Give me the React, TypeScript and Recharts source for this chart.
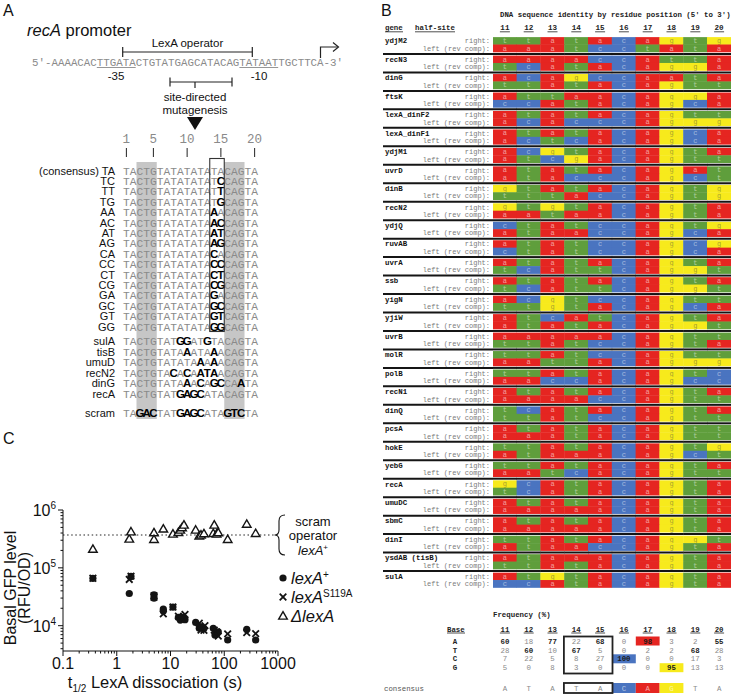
import React from 'react';
import { ScatterChart, Scatter, XAxis, YAxis, ReferenceLine } from 'recharts';

const SANS = '"Liberation Sans", Arial, Helvetica, sans-serif';
const MONO = '"Liberation Mono", "Courier New", monospace';

// ---------------- Panel A data ----------------
const promoterSeq = '5\u2032-AAAACACTTGATACTGTATGAGCATACAGTATAATTGCTTCA-3\u2032';
const positionMarks = [1, 5, 10, 15, 20];
const consensusSeq = 'TACTGTATATATATACAGTA';
const variantLabels = ['(consensus) TA', 'TC', 'TT', 'TG', 'AA', 'AC', 'AT', 'AG', 'CA', 'CC', 'CT', 'CG', 'GA', 'GC', 'GT', 'GG'];
const variantSeqs = [
  'TACTGTATATATATACAGTA', 'TACTGTATATATATCCAGTA', 'TACTGTATATATATTCAGTA', 'TACTGTATATATATGCAGTA',
  'TACTGTATATATAAACAGTA', 'TACTGTATATATAACCAGTA', 'TACTGTATATATAATCAGTA', 'TACTGTATATATAAGCAGTA',
  'TACTGTATATATACACAGTA', 'TACTGTATATATACCCAGTA', 'TACTGTATATATACTCAGTA', 'TACTGTATATATACGCAGTA',
  'TACTGTATATATAGACAGTA', 'TACTGTATATATAGCCAGTA', 'TACTGTATATATAGTCAGTA', 'TACTGTATATATAGGCAGTA',
];
const naturalLabels = ['sulA', 'tisB', 'umuD', 'recN2', 'dinG', 'recA'];
const naturalSeqs = [
  'TACTGTATGGATGTACAGTA', 'TACTGTATAAATAAACAGTA', 'TACTGTATATAAAAACAGTA',
  'TACTGTACACAATAACAGTA', 'TACTGTATAAACAGCCAATA', 'TACTGTATGAGCATACAGTA',
];
const scramLabel = 'scram';
const scramSeq = 'TAGACTATGAGCATAGTCTA';

// ---------------- Panel B data ----------------
const geneNames = ['ydjM2', 'recN3', 'dinG', 'ftsK', 'lexA_dinF2', 'lexA_dinF1', 'ydjM1', 'uvrD', 'dinB', 'recN2',
  'ydjQ', 'ruvAB', 'uvrA', 'ssb', 'yigN', 'yjiW', 'uvrB', 'molR', 'polB', 'recN1',
  'dinQ', 'pcsA', 'hokE', 'yebG', 'recA', 'umuDC', 'sbmC', 'dinI', 'ysdAB (tisB)', 'sulA'];
const rightHalves = ['ttatacagtg', 'aaaaccatta', 'acagccaata', 'attaacagga', 'atatacagtt', 'atatacagca', 'acgtacagta', 'atatacagat', 'gtatacagtg', 'gtgtacagta',
  'ctatccagtg', 'atatccagcg', 'atatacagta', 'atatacagta', 'acgtccagtt', 'atcatcagta', 'aaaaacagtt', 'ttatccagtt', 'ttatacagtc', 'atatacagta',
  'tcatacagta', 'atatacagtt', 'ttatacagtg', 'ttatacagta', 'gcatacagta', 'atatacagta', 'atatacagta', 'ttatacaggt', 'ataaacagta', 'atgtacagta'];
const leftHalves = ['aaatcctata', 'tcatacagga', 'ttatacagtt', 'ccatacagca', 'acacccaggg', 'actcacagca', 'atcgacagtt', 'atacccagct', 'tttaccagtg', 'aataacagta',
  'ataaccagca', 'ctatccagca', 'tcattcaggt', 'tcattcaggt', 'ttgtacagca', 'atatacaggt', 'ttatccagta', 'aattacaggg', 'aaccacagcc', 'aaaaccagtt',
  'ttatccagtt', 'aaatacagtt', 'ataaacagct', 'aatcacagtt', 'tcatacagta', 'aaaaacagta', 'aaaaacagta', 'ataaccagta', 'ttatacagta', 'ccatacagta'];
const residuePositions = [11, 12, 13, 14, 15, 16, 17, 18, 19, 20];
const freqBases = ['A', 'T', 'C', 'G'];
const freqA = [60, 18, 77, 22, 68, 0, 98, 3, 2, 55];
const freqT = [28, 60, 10, 67, 5, 0, 2, 2, 68, 28];
const freqC = [7, 22, 5, 8, 27, 100, 0, 0, 17, 3];
const freqG = [5, 0, 8, 3, 0, 0, 0, 95, 13, 13];
const consensusRow = ['A', 'T', 'A', 'T', 'A', 'C', 'A', 'G', 'T', 'A'];

// ---------------- Panel C data ----------------
const xMajor = [0.1, 1, 10, 100, 1000];
const yMajor = [1e4, 1e5, 1e6];
const scramLevel = 3.7e5;
const lexAplus = [
  { t: 0.36, gfp: 6.6e4 }, { t: 1.71, gfp: 3.6e4 }, { t: 1.84, gfp: 7.1e4 }, { t: 4.93, gfp: 3.4e4 },
  { t: 4.93, gfp: 3.0e4 }, { t: 7.35, gfp: 1.94e4 }, { t: 7.35, gfp: 1.8e4 }, { t: 11.1, gfp: 2.1e4 },
  { t: 14.0, gfp: 1.39e4 }, { t: 15.2, gfp: 1.25e4 }, { t: 16.4, gfp: 1.39e4 }, { t: 17.8, gfp: 1.34e4 },
  { t: 18.6, gfp: 1.27e4 }, { t: 29.4, gfp: 1.14e4 }, { t: 34.3, gfp: 9.0e3 }, { t: 36.9, gfp: 9.5e3 },
  { t: 41.9, gfp: 8.9e3 }, { t: 62.5, gfp: 9.0e3 }, { t: 67.1, gfp: 6.9e3 }, { t: 72, gfp: 7.3e3 },
  { t: 77.4, gfp: 7.8e3 }, { t: 115.8, gfp: 5.65e3 }, { t: 262, gfp: 8.6e3 }, { t: 384, gfp: 5.65e3 },
];
const lexAS119A = [
  { t: 0.36, gfp: 6.6e4 }, { t: 1.71, gfp: 6.3e4 }, { t: 1.84, gfp: 7.2e4 }, { t: 4.93, gfp: 3.3e4 },
  { t: 4.93, gfp: 3.1e4 }, { t: 7.35, gfp: 1.6e4 }, { t: 11.1, gfp: 2.1e4 }, { t: 14.0, gfp: 1.46e4 },
  { t: 16.4, gfp: 1.3e4 }, { t: 18.6, gfp: 1.56e4 }, { t: 34.3, gfp: 1.1e4 }, { t: 36.9, gfp: 8.4e3 },
  { t: 43.7, gfp: 1.0e4 }, { t: 41.9, gfp: 8.3e3 }, { t: 65.2, gfp: 8.4e3 }, { t: 72, gfp: 7.8e3 },
  { t: 77.4, gfp: 6.6e3 }, { t: 115.8, gfp: 7.2e3 }, { t: 262, gfp: 7.6e3 }, { t: 384, gfp: 7.3e3 },
];
const deltaLexA = [
  { t: 0.36, gfp: 2.1e5 }, { t: 1.71, gfp: 3.15e5 }, { t: 1.84, gfp: 4.2e5 }, { t: 4.93, gfp: 4.05e5 },
  { t: 4.93, gfp: 3.1e5 }, { t: 7.35, gfp: 4.7e5 }, { t: 11.1, gfp: 3.85e5 }, { t: 14.0, gfp: 4.1e5 },
  { t: 15.2, gfp: 4.5e5 }, { t: 16.4, gfp: 4.95e5 }, { t: 17.8, gfp: 5.5e5 }, { t: 29.4, gfp: 4.5e5 },
  { t: 34.3, gfp: 3.55e5 }, { t: 36.9, gfp: 3.7e5 }, { t: 41.9, gfp: 3.9e5 }, { t: 65.2, gfp: 5.5e5 },
  { t: 62.5, gfp: 3.95e5 }, { t: 72, gfp: 3.85e5 }, { t: 77.4, gfp: 4.05e5 }, { t: 115.8, gfp: 3.1e5 },
  { t: 262, gfp: 5.7e5 }, { t: 384, gfp: 3.95e5 },
];

// ---------------- helpers ----------------
const withMinors = (majors: number[], lo: number) => {
  const out: number[] = [];
  majors.forEach((m, i) => {
    out.push(m);
    if (i < majors.length - 1) for (let k = 2; k <= 9; k++) out.push(m * k);
  });
  const first = majors[0];
  for (let k = 9; k >= 2; k--) if ((first / 10) * k >= lo) out.unshift((first / 10) * k);
  return out.sort((a, b) => a - b);
};
const isMajor = (v: number, majors: number[]) => majors.some((m) => Math.abs(m - v) / m < 1e-6);

// Panel A geometry
const A_X0 = 123;
const A_CW = 6.75;
const aCharX = (i: number) => A_X0 + (i + 0.5) * A_CW;

const SeqRow = ({ label, seq, y }: { label: string; seq: string; y: number }) => (
  <g>
    <text x={115} y={y + 4} textAnchor="end" fontFamily={SANS} fontSize={11} fill="#111">{label}</text>
    {seq.split('').map((c, i) => {
      const bold = c !== consensusSeq[i];
      return (
        <text key={i} x={aCharX(i)} y={y + 4} textAnchor="middle" fontFamily={bold ? SANS : MONO}
          fontWeight={bold ? 'bold' : 'normal'} fontSize={bold ? 11.5 : 11.25} fill={bold ? '#000' : '#8a8a8a'}>{c}</text>
      );
    })}
  </g>
);

// Panel B geometry
const B_LEFT = 380;
const B_YAXIS_W = 113;
const B_TOP = 35.5;
const B_PLOT_W = 351 - B_YAXIS_W;
const B_PLOT_H = 554;
const B_CELL_W = B_PLOT_W / residuePositions.length;
const B_GENE_H = B_PLOT_H / geneNames.length;
const R_OFF = 0.29;
const L_OFF = 0.69;
const CELL_H = 0.405 * B_GENE_H;
const bColX = (i: number) => B_LEFT + B_YAXIS_W + (i + 0.5) * B_CELL_W;

const BASE_COLORS: Record<string, string> = { a: '#e52521', t: '#5f9e3c', c: '#4a74c0', g: '#f7ea1c' };
const BASE_TEXT: Record<string, string> = { a: 'rgba(255,255,255,0.55)', t: 'rgba(255,255,255,0.5)', c: 'rgba(255,255,255,0.5)', g: 'rgba(90,90,60,0.55)' };

const cellData = geneNames.flatMap((_, gi) => [
  ...rightHalves[gi].split('').map((b, k) => ({ col: residuePositions[k], row: gi + R_OFF, base: b, gi, right: true })),
  ...leftHalves[gi].split('').map((b, k) => ({ col: residuePositions[k], row: gi + L_OFF, base: b, gi, right: false })),
]);
const rowTicks = geneNames.flatMap((_, gi) => [gi + R_OFF, gi + L_OFF]);

const CellShape = (props: any) => {
  const { cx, cy, payload } = props;
  if (cx == null || cy == null) return null;
  const w = B_CELL_W + 0.4;
  return (
    <g>
      <rect x={cx - w / 2} y={cy - CELL_H / 2} width={w} height={CELL_H + 0.3} fill={BASE_COLORS[payload.base]} />
      <text x={cx} y={cy + 2.3} textAnchor="middle" fontFamily={MONO} fontSize={7} fill={BASE_TEXT[payload.base]}>{payload.base}</text>
      {payload.right && payload.gi > 0 && (
        <line x1={cx - w / 2} x2={cx + w / 2} y1={cy - R_OFF * B_GENE_H} y2={cy - R_OFF * B_GENE_H} stroke="#151515" strokeWidth={2} />
      )}
    </g>
  );
};

const BColTick = (props: any) => {
  const { x, payload } = props;
  return (
    <g>
      <text x={x} y={30} textAnchor="middle" fontFamily={MONO} fontWeight="bold" fontSize={7.6} fill="#222">{payload.value}</text>
      <line x1={x - 5} x2={x + 5} y1={31.8} y2={31.8} stroke="#222" strokeWidth={0.8} />
    </g>
  );
};

const BRowTick = (props: any) => {
  const { y, payload } = props;
  const v = payload.value;
  const gi = Math.floor(v + 1e-6);
  const isRight = v - gi < 0.5;
  return (
    <g>
      {isRight && gi > 0 && (
        <line x1={3} x2={B_YAXIS_W} y1={y - R_OFF * B_GENE_H} y2={y - R_OFF * B_GENE_H} stroke="#151515" strokeWidth={2} />
      )}
      {isRight && (
        <text x={5} y={y + 2.5} fontFamily={MONO} fontWeight="bold" fontSize={7.4} fill="#111">{geneNames[gi]}</text>
      )}
      <text x={B_YAXIS_W - 3} y={y + 2.5} textAnchor="end" fontFamily={MONO} fontSize={7} fill="#7a7a7a">
        {isRight ? 'right:' : 'left (rev comp):'}
      </text>
    </g>
  );
};

// Panel C
const xTicksAll = withMinors(xMajor, 0.1);
const yTicksAll = withMinors(yMajor, 3650);

const CXTick = (props: any) => {
  const { x, y, payload } = props;
  const v = payload.value;
  const major = isMajor(v, xMajor);
  return (
    <g>
      <line x1={x} x2={x} y1={y} y2={y + (major ? 5 : 2.5)} stroke="#111" strokeWidth={1} />
      {major && <text x={x} y={y + 18} textAnchor="middle" fontFamily={SANS} fontSize={16} fill="#111">{v}</text>}
    </g>
  );
};
const CYTick = (props: any) => {
  const { x, y, payload } = props;
  const v = payload.value;
  const major = isMajor(v, yMajor);
  const exp = Math.round(Math.log10(v));
  return (
    <g>
      <line x1={x - (major ? 5 : 2.5)} x2={x} y1={y} y2={y} stroke="#111" strokeWidth={1} />
      {major && (
        <text x={x - 7} y={y + 6} textAnchor="end" fontFamily={SANS} fontSize={16} fill="#111">
          10<tspan dy={-7} fontSize={10}>{exp}</tspan>
        </text>
      )}
    </g>
  );
};
const CircleMark = (props: any) => (props.cx == null ? null : <circle cx={props.cx} cy={props.cy} r={3.6} fill="#141414" />);
const CrossMark = (props: any) => {
  const { cx, cy } = props;
  if (cx == null) return null;
  const s = 3.3;
  return (
    <g stroke="#141414" strokeWidth={1.8}>
      <line x1={cx - s} y1={cy - s} x2={cx + s} y2={cy + s} />
      <line x1={cx - s} y1={cy + s} x2={cx + s} y2={cy - s} />
    </g>
  );
};
const TriMark = (props: any) => {
  const { cx, cy } = props;
  if (cx == null) return null;
  return <polygon points={`${cx},${cy - 4.3} ${cx + 4.3},${cy + 3.1} ${cx - 4.3},${cy + 3.1}`} fill="#fff" stroke="#141414" strokeWidth={1.4} />;
};

export default function App() {
  const vRow0 = 170.5;
  const vStep = 10.4;
  const nRow0 = 341;
  const nStep = 10.5;
  const scramY = 413;
  const freqRows = [freqA, freqT, freqC, freqG];
  const freqY = [641, 650, 658.8, 667.7];
  const colMax = residuePositions.map((_, i) => Math.max(freqA[i], freqT[i], freqC[i], freqG[i]));
  const highlight: Record<number, string> = { 5: BASE_COLORS.c, 6: BASE_COLORS.a, 7: BASE_COLORS.g };

  return (
    <div style={{ position: 'absolute', left: 0, top: 0, width: 731, height: 694, background: '#fff', overflow: 'hidden' }}>
      {/* Panel B grid */}
      <div style={{ position: 'absolute', left: B_LEFT, top: 0 }}>
        <ScatterChart width={351} height={592} margin={{ top: 0, right: 0, bottom: 592 - B_TOP - B_PLOT_H, left: 0 }}>
          <XAxis type="number" dataKey="col" orientation="top" domain={[10.5, 20.5]} allowDataOverflow
            ticks={residuePositions} interval={0} height={B_TOP} tickSize={0} tickMargin={0}
            axisLine={false} tickLine={false} tick={<BColTick />} />
          <YAxis type="number" dataKey="row" domain={[0, geneNames.length]} reversed allowDataOverflow
            ticks={rowTicks} interval={0} width={B_YAXIS_W} tickSize={0} tickMargin={0}
            axisLine={false} tickLine={false} tick={<BRowTick />} />
          <Scatter data={cellData} shape={<CellShape />} isAnimationActive={false} />
        </ScatterChart>
      </div>

      {/* Panel C chart */}
      <div style={{ position: 'absolute', left: 0, top: 495 }}>
        <ScatterChart width={300} height={199} margin={{ top: 15, right: 22, bottom: 0, left: 8 }}>
          <XAxis type="number" dataKey="t" scale="log" domain={[0.1, 1000]} allowDataOverflow ticks={xTicksAll}
            interval={0} height={43} tickSize={0} tickMargin={0} tickLine={false}
            axisLine={{ stroke: '#111' }} tick={<CXTick />} />
          <YAxis type="number" dataKey="gfp" scale="log" domain={[3650, 1e6]} allowDataOverflow ticks={yTicksAll}
            interval={0} width={55} tickSize={0} tickMargin={0} tickLine={false}
            axisLine={{ stroke: '#111' }} tick={<CYTick />} />
          <ReferenceLine y={scramLevel} stroke="#222" strokeWidth={1.2} strokeDasharray="1.5 2.6" />
          <Scatter data={deltaLexA} shape={<TriMark />} isAnimationActive={false} />
          <Scatter data={lexAplus} shape={<CircleMark />} isAnimationActive={false} />
          <Scatter data={lexAS119A} shape={<CrossMark />} isAnimationActive={false} />
        </ScatterChart>
      </div>

      {/* Text / schematic overlay */}
      <svg width={731} height={694} style={{ position: 'absolute', left: 0, top: 0, pointerEvents: 'none' }}>
        {/* ===== Panel A ===== */}
        <text x={3} y={16} fontFamily={SANS} fontSize={16} fill="#111">A</text>
        <text x={27} y={36} fontFamily={SANS} fontSize={16.5} fill="#111">
          <tspan fontStyle="italic">recA</tspan> promoter
        </text>
        <text x={187.5} y={47} textAnchor="middle" fontFamily={SANS} fontSize={11.5} fill="#111">LexA operator</text>
        <line x1={122.7} x2={252.3} y1={52} y2={52} stroke="#222" strokeWidth={1.2} />
        <line x1={122.7} x2={122.7} y1={47} y2={57} stroke="#222" strokeWidth={1.2} />
        <line x1={252.3} x2={252.3} y1={47} y2={57} stroke="#222" strokeWidth={1.2} />
        <path d="M320.5 58 V47 H338" fill="none" stroke="#222" strokeWidth={1.2} />
        <polyline points="333,42.5 338.5,47 333,51.5" fill="none" stroke="#222" strokeWidth={1.2} />
        <text x={32} y={65.5} fontFamily={MONO} fontSize={10.8} fill="#8a8a8a">{promoterSeq}</text>
        <line x1={96.8} x2={135.7} y1={67.5} y2={67.5} stroke="#8a8a8a" strokeWidth={0.9} />
        <line x1={239.4} x2={278.2} y1={67.5} y2={67.5} stroke="#8a8a8a" strokeWidth={0.9} />
        <text x={116} y={80} textAnchor="middle" fontFamily={SANS} fontSize={11.5} fill="#111">-35</text>
        <text x={259} y={80} textAnchor="middle" fontFamily={SANS} fontSize={11.5} fill="#111">-10</text>
        <line x1={170} x2={232} y1={82} y2={82} stroke="#222" strokeWidth={1.2} />
        <line x1={170} x2={170} y1={77.5} y2={86.5} stroke="#222" strokeWidth={1.2} />
        <line x1={232} x2={232} y1={77.5} y2={86.5} stroke="#222" strokeWidth={1.2} />
        <line x1={195} x2={195} y1={82} y2={88} stroke="#222" strokeWidth={1.2} />
        <text x={195} y={101} textAnchor="middle" fontFamily={SANS} fontSize={11.5} fill="#111">site-directed</text>
        <text x={195} y={114} textAnchor="middle" fontFamily={SANS} fontSize={11.5} fill="#111">mutagenesis</text>
        <polygon points="187,117 203,117 195,130" fill="#111" />
        {positionMarks.map((p) => (
          <g key={p}>
            <text x={aCharX(p - 1)} y={142.5} textAnchor="middle" fontFamily={MONO} fontSize={12.5} fill="#8a8a8a">{p}</text>
            <line x1={aCharX(p - 1)} x2={aCharX(p - 1)} y1={148} y2={157} stroke="#222" strokeWidth={1} />
          </g>
        ))}
        <rect x={A_X0 + 2 * A_CW} y={162} width={3 * A_CW} height={257} fill="#c6c6c6" />
        <rect x={A_X0 + 15 * A_CW} y={162} width={3 * A_CW} height={257} fill="#c6c6c6" />
        {variantLabels.map((lab, i) => (
          <SeqRow key={lab} label={lab} seq={variantSeqs[i]} y={vRow0 + i * vStep} />
        ))}
        <rect x={A_X0 + 13 * A_CW - 1} y={158.5} width={2 * A_CW + 1} height={173} fill="none" stroke="#333" strokeWidth={1.1} />
        {naturalLabels.map((lab, j) => (
          <SeqRow key={lab} label={lab} seq={naturalSeqs[j]} y={nRow0 + j * nStep} />
        ))}
        <SeqRow label={scramLabel} seq={scramSeq} y={scramY} />

        {/* ===== Panel B headers ===== */}
        <text x={381} y={16} fontFamily={SANS} fontSize={16} fill="#111">B</text>
        <text x={500} y={17} fontFamily={MONO} fontWeight="bold" fontSize={7.4} fill="#222">
          DNA sequence identity by residue position (5{'\u2032'} to 3{'\u2032'})
        </text>
        <text x={385} y={30} fontFamily={MONO} fontWeight="bold" fontSize={7.4} fill="#222">gene</text>
        <line x1={385} x2={403} y1={31.8} y2={31.8} stroke="#222" strokeWidth={0.8} />
        <text x={415} y={30} fontFamily={MONO} fontWeight="bold" fontSize={7.4} fill="#222">half-site</text>
        <line x1={415} x2={455} y1={31.8} y2={31.8} stroke="#222" strokeWidth={0.8} />

        {/* Frequency table */}
        <text x={493} y={616.5} fontFamily={MONO} fontWeight="bold" fontSize={7.4} fill="#222">Frequency (%)</text>
        <text x={447} y={631.5} fontFamily={MONO} fontWeight="bold" fontSize={7.4} fill="#222">Base</text>
        <line x1={447} x2={465} y1={633} y2={633} stroke="#222" strokeWidth={0.8} />
        {residuePositions.map((p, i) => (
          <g key={p}>
            <text x={bColX(i)} y={631.5} textAnchor="middle" fontFamily={MONO} fontWeight="bold" fontSize={7.4} fill="#222">{p}</text>
            <line x1={bColX(i) - 5} x2={bColX(i) + 5} y1={633} y2={633} stroke="#222" strokeWidth={0.8} />
          </g>
        ))}
        {freqRows.map((row, r) => (
          <g key={freqBases[r]}>
            <text x={455} y={freqY[r] + 2.6} textAnchor="middle" fontFamily={MONO} fontWeight="bold" fontSize={7.4} fill="#222">{freqBases[r]}</text>
            {row.map((v, i) => {
              const bold = v === colMax[i];
              const hl = bold && highlight[i];
              return (
                <g key={i}>
                  {hl && <rect x={bColX(i) - B_CELL_W / 2} y={freqY[r] - 4.5} width={B_CELL_W} height={9} fill={hl} />}
                  <text x={bColX(i)} y={freqY[r] + 2.6} textAnchor="middle" fontFamily={MONO} fontWeight={bold ? 'bold' : 'normal'}
                    fontSize={7.4} fill={bold ? '#1a1a1a' : '#8a8a8a'}>{v}</text>
                </g>
              );
            })}
          </g>
        ))}
        <rect x={bColX(3) - B_CELL_W / 2 - 0.5} y={636.5} width={2 * B_CELL_W + 1} height={37} fill="none" stroke="#222" strokeWidth={1.8} />
        <text x={384} y={690.5} fontFamily={MONO} fontSize={7.4} fill="#555">consensus</text>
        {consensusRow.map((c, i) => (
          <g key={i}>
            {highlight[i] && <rect x={bColX(i) - B_CELL_W / 2} y={683} width={B_CELL_W} height={10} fill={highlight[i]} />}
            <text x={bColX(i)} y={690.5} textAnchor="middle" fontFamily={MONO} fontSize={7.4}
              fill={highlight[i] ? 'rgba(255,255,255,0.6)' : '#8a8a8a'}>{c}</text>
          </g>
        ))}
        <rect x={bColX(3) - B_CELL_W / 2 - 0.5} y={683} width={2 * B_CELL_W + 1} height={10} fill="none" stroke="#222" strokeWidth={1.8} />

        {/* ===== Panel C labels ===== */}
        <text x={3} y={444} fontFamily={SANS} fontSize={16} fill="#111">C</text>
        <text transform="translate(15.5,588) rotate(-90)" textAnchor="middle" fontFamily={SANS} fontSize={16} fill="#111">Basal GFP level</text>
        <text transform="translate(30,588) rotate(-90)" textAnchor="middle" fontFamily={SANS} fontSize={16} fill="#111">(RFU/OD)</text>
        <text x={155} y={688} textAnchor="middle" fontFamily={SANS} fontSize={16.5} fill="#111">
          t<tspan dy={4} fontSize={10}>1/2</tspan><tspan dy={-4}> LexA dissociation (s)</tspan>
        </text>
        <path d="M285 515 Q279 515 279 521 L279 530 Q279 535 274.5 535 Q279 535 279 540 L279 549 Q279 555 285 555"
          fill="none" stroke="#111" strokeWidth={1.1} />
        <text x={313} y={525.5} textAnchor="middle" fontFamily={SANS} fontSize={13} fill="#111">scram</text>
        <text x={313} y={540} textAnchor="middle" fontFamily={SANS} fontSize={13} fill="#111">operator</text>
        <text x={313} y={555} textAnchor="middle" fontFamily={SANS} fontSize={13} fill="#111">
          <tspan fontStyle="italic">lexA</tspan><tspan dy={-5} fontSize={8}>+</tspan>
        </text>
        <circle cx={283} cy={578} r={3.6} fill="#141414" />
        <g stroke="#141414" strokeWidth={1.8}>
          <line x1={279.7} y1={593.7} x2={286.3} y2={600.3} />
          <line x1={279.7} y1={600.3} x2={286.3} y2={593.7} />
        </g>
        <polygon points="283,611.7 287.3,619.1 278.7,619.1" fill="#fff" stroke="#141414" strokeWidth={1.4} />
        <text x={291} y={584} fontFamily={SANS} fontSize={16.5} fill="#111">
          <tspan fontStyle="italic">lexA</tspan><tspan dy={-6} fontSize={10}>+</tspan>
        </text>
        <text x={291} y={603} fontFamily={SANS} fontSize={16.5} fill="#111">
          <tspan fontStyle="italic">lexA</tspan><tspan dy={-6} fontSize={10}>S119A</tspan>
        </text>
        <text x={291} y={621.5} fontFamily={SANS} fontSize={16.5} fontStyle="italic" fill="#111">{'\u0394'}lexA</text>
      </svg>
    </div>
  );
}
